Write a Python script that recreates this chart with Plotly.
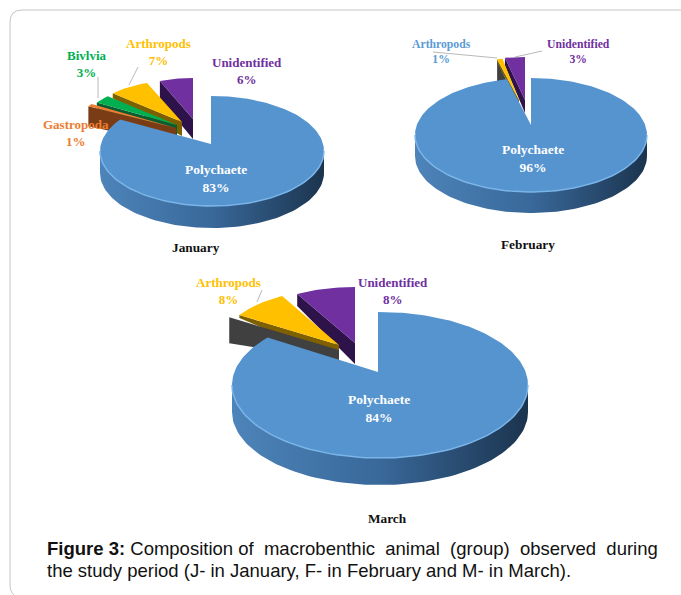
import numpy as np
import plotly.graph_objects as go

# ---- data (percent); slices run clockwise from 12 o'clock
jan_groups = ["Polychaete", "Gastropoda", "Bivlvia", "Arthropods", "Unidentified"]
jan_values = [83, 1, 3, 7, 6]
feb_groups = ["Polychaete", "Other", "Arthropods", "Unidentified"]
feb_values = [96, 0, 1, 3]
mar_groups = ["Polychaete", "Other", "Arthropods", "Unidentified"]
mar_values = [84, 0, 8, 8]

TOP = {"Polychaete": "#5594cf", "Gastropoda": "#ed7d31", "Bivlvia": "#00b050",
       "Arthropods": "#ffc000", "Unidentified": "#7030a0", "Other": "#404040"}
SIDE = {"Gastropoda": "#7a3c14", "Bivlvia": "#0b5c30", "Arthropods": "#7f6000",
        "Unidentified": "#2d1349", "Other": "#404040"}
TXT = {"Polychaete": "#ffffff", "Gastropoda": "#ed7d31", "Bivlvia": "#00b050",
       "Arthropods": "#ffc000", "Unidentified": "#7030a0", "black": "#111111"}
FEB_BLUE = "#5b9bd5"

# ---- pie placement on the page (pixel-like axes)
PIES = {
    "jan": dict(apex=(211, 144), c=(212, 151), rx=112, ry=55, depth=22,
                slices={"Gastropoda": dict(apex=(176, 128), rx=100, ry=45, da=17, dr=20),
                        "Bivlvia": dict(apex=(177, 125), rx=95, ry=42, da=14, dr=12),
                        "Arthropods": dict(apex=(182, 122), rx=95, ry=42, da=14, dr=5),
                        "Unidentified": dict(apex=(193, 119), rx=90, ry=41, da=20, dr=18)}),
    "feb": dict(apex=(531, 125), c=(531, 135), rx=116, ry=57, depth=21,
                slices={"Other": dict(apex=(519, 106), rx=88, ry=46, da=12, dr=20),
                        "Arthropods": dict(apex=(519, 100), rx=88, ry=42, da=5, dr=3),
                        "Unidentified": dict(apex=(525, 100), rx=107, ry=43, da=13, dr=8)}),
    "mar": dict(apex=(378, 372), c=(380, 385), rx=148, ry=73, depth=27,
                slices={"Other": dict(apex=(339, 350), rx=130, ry=61, da=10, dr=26),
                        "Arthropods": dict(apex=(339, 345), rx=118, ry=56, da=15, dr=3),
                        "Unidentified": dict(apex=(355, 343), rx=120, ry=56, da=21, dr=12)}),
}


def rim(theta, apex, c, rx, ry):
    """Point where the ray from apex at pie angle theta meets the ellipse."""
    dx, dy = np.sin(theta), -(ry / rx) * np.cos(theta)
    ox, oy = apex[0] - c[0], apex[1] - c[1]
    A = (dx / rx) ** 2 + (dy / ry) ** 2
    B = 2 * (ox * dx / rx ** 2 + oy * dy / ry ** 2)
    C = (ox / rx) ** 2 + (oy / ry) ** 2 - 1
    t = (-B + np.sqrt(B * B - 4 * A * C)) / (2 * A)
    return apex[0] + t * dx, apex[1] + t * dy


def wedge(a0, a1, apex, c, rx, ry):
    n = max(2, int(abs(a1 - a0) * 40))
    pts = [rim(t, apex, c, rx, ry) for t in np.linspace(a0, a1, n)]
    return [p[0] for p in pts], [p[1] for p in pts]


fig = go.Figure()


def poly(xs, ys, color, **kw):
    fig.add_trace(go.Scatter(x=list(xs) + [xs[0]], y=list(ys) + [ys[0]], mode="lines",
                             line=dict(width=0, color=color), fill="toself",
                             fillcolor=color, hoverinfo="skip", showlegend=False, **kw))


def draw_pie(groups, values, g):
    total = sum(values)
    edges = np.cumsum([0] + values) / total * 2 * np.pi
    # exploded slices, back to front
    for i in range(len(groups) - 1, 0, -1):
        name = groups[i]
        s = g["slices"][name]
        ap = s["apex"]
        a0, a1 = edges[i], edges[i + 1]
        xs, ys = wedge(a0, a1, ap, ap, s["rx"], s["ry"])
        # inner radial face seen on the left edge of the slice
        fx = [xs[0], ap[0], ap[0], xs[0]]
        fy = [ys[0], ap[1], ap[1] + s["da"], ys[0] + s["dr"]]
        poly(fx, fy, SIDE[name])
        if values[i] > 0:
            poly(xs + [ap[0]], ys + [ap[1]], TOP[name])
    # main slice: wall then top
    cx, cy = g["c"]
    phi = np.linspace(0, np.pi, 80)
    ax = cx + g["rx"] * np.cos(phi)
    ay = cy + g["ry"] * np.sin(phi)
    wx = np.concatenate([ax, ax[::-1]])
    wy = np.concatenate([ay, ay[::-1] + g["depth"]])
    fig.add_trace(go.Scatter(
        x=wx, y=wy, mode="lines", line=dict(width=0), fill="toself",
        fillgradient=dict(type="horizontal",
                          colorscale=[[0, "#4d84b9"], [0.5, "#39689a"], [1, "#1b344e"]]),
        hoverinfo="skip", showlegend=False))
    xs, ys = wedge(edges[0], edges[1], g["apex"], g["c"], g["rx"], g["ry"])
    poly(xs + [g["apex"][0]], ys + [g["apex"][1]], TOP[groups[0]])
    fig.add_trace(go.Scatter(x=ax, y=ay, mode="lines", line=dict(width=1.5, color="#7ab4e8"),
                             hoverinfo="skip", showlegend=False))


draw_pie(jan_groups, jan_values, PIES["jan"])
draw_pie(feb_groups, feb_values, PIES["feb"])
draw_pie(mar_groups, mar_values, PIES["mar"])


def val(groups, values, name):
    return f"{values[groups.index(name)]}%"


def label(x, y, name, value, color, size=13):
    fig.add_annotation(x=x, y=y, text=f"<b>{name}</b><br><b>{value}</b>", showarrow=False,
                       xanchor="center", yanchor="middle", align="center",
                       font=dict(family="Liberation Serif", size=size, color=color))


def leader(points):
    xs, ys = zip(*points)
    fig.add_trace(go.Scatter(x=xs, y=ys, mode="lines", line=dict(width=0.8, color="#a6a6a6"),
                             hoverinfo="skip", showlegend=False))


leader([(98, 77), (98, 98)])
leader([(138, 67), (129, 85)])
leader([(433, 52), (497, 58)])
leader([(542, 51), (515, 57)])
leader([(262, 290), (257, 302)])

label(76, 133, "Gastropoda", val(jan_groups, jan_values, "Gastropoda"), TXT["Gastropoda"])
label(87, 64, "Bivlvia", val(jan_groups, jan_values, "Bivlvia"), TXT["Bivlvia"])
label(158, 52, "Arthropods", val(jan_groups, jan_values, "Arthropods"), TXT["Arthropods"])
label(247, 71, "Unidentified", val(jan_groups, jan_values, "Unidentified"), TXT["Unidentified"])
label(216, 178, "Polychaete", val(jan_groups, jan_values, "Polychaete"), "#ffffff", 13.5)
label(441, 52, "Arthropods", val(feb_groups, feb_values, "Arthropods"), FEB_BLUE, 11.7)
label(578, 52, "Unidentified", val(feb_groups, feb_values, "Unidentified"), TXT["Unidentified"], 11.7)
label(533, 158, "Polychaete", val(feb_groups, feb_values, "Polychaete"), "#ffffff", 13.5)
label(228, 291, "Arthropods", val(mar_groups, mar_values, "Arthropods"), TXT["Arthropods"])
label(393, 291, "Unidentified", val(mar_groups, mar_values, "Unidentified"), TXT["Unidentified"])
label(379, 408, "Polychaete", val(mar_groups, mar_values, "Polychaete"), "#ffffff", 13.5)

for x, y, t in [(196, 247, "January"), (528, 244, "February"), (387, 518, "March")]:
    fig.add_annotation(x=x, y=y, text=f"<b>{t}</b>", showarrow=False,
                       font=dict(family="Liberation Serif", size=13.3, color="#111111"))

NB = "\u00a0"
fig.add_annotation(x=45, y=548, xanchor="left", yanchor="middle", showarrow=False,
                   text=f"<b>Figure 3:</b> Composition of{NB} macrobenthic{NB} animal{NB} (group){NB} observed{NB} during",
                   font=dict(family="Liberation Sans", size=18.5, color="#111111"))
fig.add_annotation(x=45, y=570, xanchor="left", yanchor="middle", showarrow=False,
                   text="the study period (J- in January, F- in February and M- in March).",
                   font=dict(family="Liberation Sans", size=18.5, color="#111111"))

fig.add_shape(type="path", path="M 681 10 L 22 10 Q 10 10 10 22 L 10 584 Q 10 592 14 595",
              line=dict(color="#c4c4c4", width=1), layer="below")

fig.update_layout(
    width=681, height=595, margin=dict(l=0, r=0, t=0, b=0),
    paper_bgcolor="white", plot_bgcolor="white", showlegend=False,
    xaxis=dict(range=[0, 681], visible=False, fixedrange=True),
    yaxis=dict(range=[595, 0], visible=False, fixedrange=True),
)
fig.write_html("out.html", config={"displayModeBar": False},
               post_script="document.body.style.margin='0';document.body.style.overflow='hidden';")
